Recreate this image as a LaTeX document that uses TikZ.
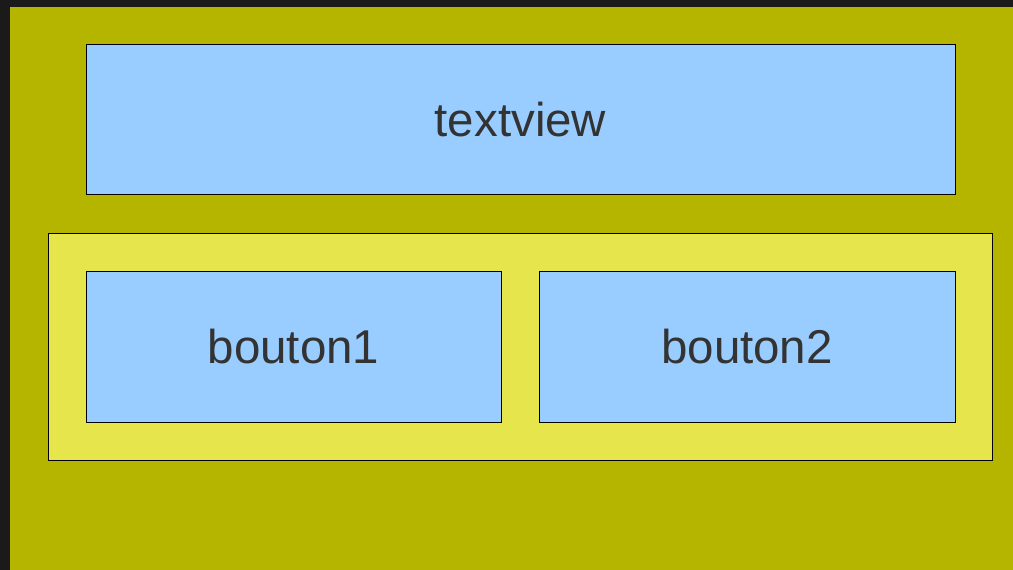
\documentclass[tikz,border=0pt]{standalone}
\usepackage{fontspec}
\setmainfont{Liberation Sans}
\definecolor{frame}{HTML}{1A1A1A}
\definecolor{olive}{HTML}{B5B500}
\definecolor{lightyel}{HTML}{E6E64C}
\definecolor{skyblue}{HTML}{99CCFF}
\definecolor{txt}{HTML}{333333}
\tikzset{
  widget/.style={draw=black, line width=0.75pt, fill=skyblue, text=txt, font=\fontsize{35.6}{42}\selectfont},
  container/.style={draw=black, line width=0.75pt, fill=lightyel}
}
\begin{document}
\begin{tikzpicture}[x=0.75pt,y=-0.75pt]
\useasboundingbox (0,0) rectangle (1013,570);
\fill[frame] (0,0) rectangle (1013,570);
\fill[olive] (10,7) rectangle (1013,570);
\node[widget, minimum width=869*0.75pt, minimum height=150*0.75pt, inner sep=0pt] (textview) at (520.5,120) {textview};
\node[container, minimum width=944*0.75pt, minimum height=226*0.75pt, inner sep=0pt] (layout) at (520,347) {};
\node[widget, minimum width=415*0.75pt, minimum height=151*0.75pt, inner sep=0pt] (b1) at (293.5,346.5) {bouton1};
\node[widget, minimum width=416*0.75pt, minimum height=151*0.75pt, inner sep=0pt] (b2) at (747,346.5) {bouton2};
\end{tikzpicture}
\end{document}
